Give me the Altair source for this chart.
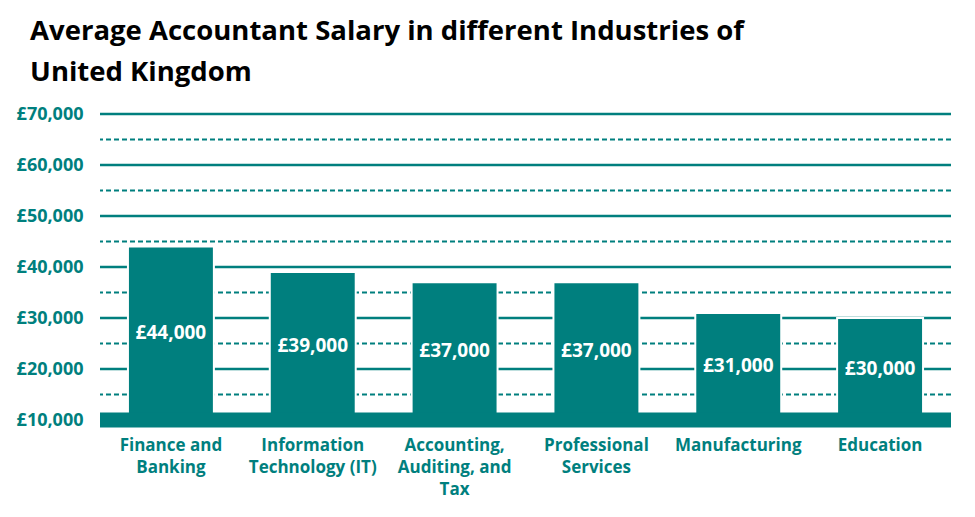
import altair as alt
import pandas as pd

categories = [
    "Finance and\nBanking",
    "Information\nTechnology (IT)",
    "Accounting,\nAuditing, and\nTax",
    "Professional\nServices",
    "Manufacturing",
    "Education",
]
salaries = [44000, 39000, 37000, 37000, 31000, 30000]
solid_grid = [20000, 30000, 40000, 50000, 60000, 70000]
dashed_grid = [15000, 25000, 35000, 45000, 55000, 65000]
y_ticks = [10000, 20000, 30000, 40000, 50000, 60000, 70000]
base_value = [10000]

TEAL = "#007F7E"
FONT = "Open Sans"

df = pd.DataFrame({"industry": categories, "salary": salaries})
df_solid = pd.DataFrame({"v": solid_grid})
df_dash = pd.DataFrame({"v": dashed_grid})
df_base = pd.DataFrame({"v": base_value})

yscale = alt.Scale(domain=[10000, 70000], nice=False, zero=False)
xscale = alt.Scale(paddingInner=0.394, paddingOuter=0.197)

y_axis = alt.Axis(
    values=y_ticks,
    labelExpr="'£' + format(datum.value, ',')",
    labelFont=FONT,
    labelFontSize=18,
    labelFontWeight="bold",
    labelColor=TEAL,
    labelPadding=17,
    ticks=False,
    domain=False,
    grid=False,
    title=None,
)

solid = alt.Chart(df_solid).mark_rule(color=TEAL, strokeWidth=2.5).encode(
    y=alt.Y("v:Q", scale=yscale, axis=y_axis, title=None)
)
dashed = alt.Chart(df_dash).mark_rule(color=TEAL, strokeWidth=2, strokeDash=[5, 3]).encode(
    y=alt.Y("v:Q", scale=yscale, axis=y_axis, title=None)
)

bars = alt.Chart(df).mark_bar(color=TEAL, stroke="white", strokeWidth=2).encode(
    x=alt.X(
        "industry:N",
        sort=categories,
        scale=xscale,
        title=None,
        axis=alt.Axis(
            labelExpr="split(datum.label, '\\n')",
            labelAngle=0,
            labelFont=FONT,
            labelFontSize=17,
            labelFontWeight="bold",
            labelColor=TEAL,
            labelLineHeight=22,
            labelPadding=17,
            ticks=False,
            domain=False,
            labelLimit=300,
        ),
    ),
    y=alt.Y("salary:Q", scale=yscale, axis=y_axis, title=None),
    y2=alt.datum(10000),
)

base = alt.Chart(df_base).mark_rule(color=TEAL, strokeWidth=15).encode(
    y=alt.Y("v:Q", scale=yscale, axis=y_axis, title=None)
)

labels = alt.Chart(df).transform_calculate(
    mid="(datum.salary + 10000) / 2",
    txt="'£' + format(datum.salary, ',')",
).mark_text(
    color="white", font=FONT, fontSize=19, fontWeight="bold", baseline="middle"
).encode(
    x=alt.X("industry:N", sort=categories, scale=xscale, title=None),
    y=alt.Y("mid:Q", scale=yscale, axis=y_axis, title=None),
    text="txt:N",
)

chart = alt.layer(solid, dashed, bars, base, labels).properties(
    width=851,
    height=306,
    autosize=alt.AutoSizeParams(type="none"),
    padding={"left": 92, "top": 106, "right": 16, "bottom": 97},
    title=alt.TitleParams(
        text=["Average Accountant Salary in different Industries of", "United Kingdom"],
        anchor="start",
        font=FONT,
        fontSize=27.5,
        fontWeight="bold",
        color="black",
        lineHeight=41,
        dx=14,
        offset=19,
    ),
).configure_view(stroke=None)

chart.save("out.html", embed_options={"renderer": "svg", "actions": False})
